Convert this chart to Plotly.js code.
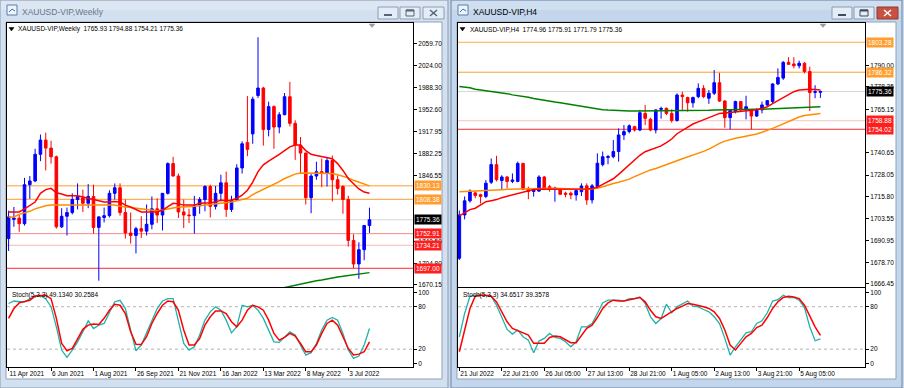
<!DOCTYPE html>
<html><head><meta charset="utf-8">
<script src="https://cdn.plot.ly/plotly-3.0.1.min.js"></script>
<style>html,body{margin:0;padding:0;background:#c8d8ea;}#chart{width:904px;height:388px;}</style>
</head><body><div id="chart"></div>
<script>
// ================= WEEKLY DATA =================
const weekDates = ['2021-04-11','2021-04-18','2021-04-25','2021-05-02','2021-05-09','2021-05-16','2021-05-23','2021-05-30','2021-06-06','2021-06-13','2021-06-20','2021-06-27','2021-07-04','2021-07-11','2021-07-18','2021-07-25','2021-08-01','2021-08-08','2021-08-15','2021-08-22','2021-08-29','2021-09-05','2021-09-12','2021-09-19','2021-09-26','2021-10-03','2021-10-10','2021-10-17','2021-10-24','2021-10-31','2021-11-07','2021-11-14','2021-11-21','2021-11-28','2021-12-05','2021-12-12','2021-12-19','2021-12-26','2022-01-02','2022-01-09','2022-01-16','2022-01-23','2022-01-30','2022-02-06','2022-02-13','2022-02-20','2022-02-27','2022-03-06','2022-03-13','2022-03-20','2022-03-27','2022-04-03','2022-04-10','2022-04-17','2022-04-24','2022-05-01','2022-05-08','2022-05-15','2022-05-22','2022-05-29','2022-06-05','2022-06-12','2022-06-19','2022-06-26','2022-07-03','2022-07-10','2022-07-17','2022-07-24','2022-07-31'];
const wOpen = [1745,1776,1778,1769,1832,1838,1881,1904,1891,1877,1764,1781,1787,1808,1811,1802,1813,1763,1779,1782,1818,1827,1787,1754,1750,1761,1757,1768,1793,1783,1818,1866,1846,1788,1783,1782,1798,1808,1829,1797,1818,1835,1792,1807,1859,1900,1914,1976,1988,1921,1958,1925,1945,1974,1931,1896,1883,1811,1846,1853,1851,1871,1840,1829,1808,1742,1704,1727,1765.93];
const wHigh = [1790,1796,1783,1843,1846,1890,1913,1916,1903,1879,1794,1795,1818,1834,1824,1833,1832,1781,1795,1823,1834,1834,1808,1787,1764,1781,1800,1813,1810,1818,1868,1877,1850,1808,1793,1814,1812,1831,1832,1830,1848,1853,1814,1865,1902,1975,1974,2070,1990,1966,1960,1949,1980,1998,1936,1909,1884,1849,1869,1874,1875,1879,1847,1831,1814,1752,1739,1767,1794.88];
const wLow = [1725,1764,1756,1766,1809,1836,1870,1855,1866,1761,1762,1750,1784,1792,1788,1794,1753,1677,1771,1779,1808,1782,1745,1737,1721,1746,1750,1760,1770,1758,1816,1845,1778,1762,1770,1753,1785,1789,1779,1792,1805,1780,1788,1807,1850,1878,1898,1972,1895,1910,1890,1915,1944,1926,1872,1850,1800,1786,1840,1828,1829,1805,1816,1785,1732,1697,1680,1710,1754.21];
const wClose = [1780,1778,1769,1832,1838,1881,1904,1891,1877,1764,1781,1787,1808,1813,1802,1813,1763,1780,1782,1818,1827,1787,1754,1750,1761,1757,1768,1793,1783,1818,1866,1846,1788,1783,1782,1798,1808,1829,1797,1818,1835,1792,1807,1859,1898,1889,1970,1988,1921,1958,1925,1945,1974,1931,1896,1883,1811,1846,1853,1851,1871,1840,1826,1808,1742,1704,1727,1766,1775.36];
const wMaRed = [1788,1788,1788,1793,1798,1804,1818,1824,1826,1819,1817,1814,1814,1814,1812,1810,1807,1805,1804,1804,1805,1804,1799,1796,1792,1788,1788,1788,1788,1791,1796,1802,1801,1799,1799,1799,1802,1802,1803,1804,1807,1806,1807,1810,1815,1823,1836,1853,1864,1870,1875,1881,1887,1893,1896,1896,1887,1881,1879,1877,1875,1874,1866,1855,1842,1833,1825,1820,1818];
const wMaOrange = [1780,1780,1784,1786,1789,1793,1796,1798,1799,1799,1799,1799,1799,1800,1800,1800,1800,1800,1799,1799,1799,1797,1796,1795,1794,1792,1791,1790,1790,1791,1793,1795,1796,1796,1796,1797,1798,1799,1799,1800,1802,1803,1804,1806,1808,1810,1816,1820,1825,1829,1833,1837,1842,1846,1849,1851,1851,1851,1851,1851,1851,1850,1848,1846,1843,1839,1836,1833,1830];
const wGreenStart = 51;
const wMaGreen = [1664,1666,1668,1670,1672,1673,1675,1677,1678,1680,1681,1683,1684,1685,1687,1688,1689,1690];
const wStochK = [84.5,88,87,87,91,95,96,91,80,51.6,18.7,8.4,18.7,30.4,44.5,60,49.2,54,56.3,72.7,87,89,77.4,47,17.8,25.8,42.2,61,77.4,88,91.4,91.4,61,28,18.7,23.4,40,61,72.7,79.7,75,61,43,51.6,82,79.7,82,75,63.5,47,30.4,29.5,37.5,44.5,40,25.8,11.7,15,28,47,61,64.8,61,42.2,18.7,7,10.3,25.8,49.134];
const wStochD = [63.5,77.4,85.4,87,89,95,96,96,91.4,63.5,28,17.8,21,35,48,54,55.6,55,63.5,75,83.5,82,70.4,44.5,27,26.5,37.5,56.3,70.4,82,88,87,75,47,25.8,25.8,35,54,65.8,74,74,70.4,58.7,51.6,61,75,82,79.7,75,61,42.2,32.8,36.6,42.2,38.5,28,16.3,16.3,25.8,42.2,56.3,61,54,37.5,21,11.7,13,16.3,30.2584];
const wTickVals = ['2021-04-11','2021-06-06','2021-08-01','2021-09-26','2021-11-21','2022-01-16','2022-03-13','2022-05-08','2022-07-03'];
const wTickText = ['11 Apr 2021','6 Jun 2021','1 Aug 2021','26 Sep 2021','21 Nov 2021','16 Jan 2022','13 Mar 2022','8 May 2022','3 Jul 2022'];
const wPriceTicks = [2059.70,2024.00,1988.30,1952.60,1917.95,1882.25,1846.55,1740.50,1704.80,1670.15];
const wLevels = [1830.13,1808.38,1752.91,1734.21,1697.00];
const wLevelLine = ['#ff9d2e','#ff9d2e','#f58a8a','#f8b8b8','#ff2a2a'];
const wLevelTag = ['#ff9d2e','#ff9d2e','#ff1e1e','#ff1e1e','#ff1e1e'];

// ================= H4 DATA =================
const h4Times = ['21 Jul 13:00','21 Jul 17:00','21 Jul 21:00','22 Jul 01:00','22 Jul 05:00','22 Jul 09:00','22 Jul 13:00','22 Jul 17:00','22 Jul 21:00','25 Jul 01:00','25 Jul 05:00','25 Jul 09:00','25 Jul 13:00','25 Jul 17:00','25 Jul 21:00','26 Jul 01:00','26 Jul 05:00','26 Jul 09:00','26 Jul 13:00','26 Jul 17:00','26 Jul 21:00','27 Jul 01:00','27 Jul 05:00','27 Jul 09:00','27 Jul 13:00','27 Jul 17:00','27 Jul 21:00','28 Jul 01:00','28 Jul 05:00','28 Jul 09:00','28 Jul 13:00','28 Jul 17:00','28 Jul 21:00','29 Jul 01:00','29 Jul 05:00','29 Jul 09:00','29 Jul 13:00','29 Jul 17:00','29 Jul 21:00','1 Aug 01:00','1 Aug 05:00','1 Aug 09:00','1 Aug 13:00','1 Aug 17:00','1 Aug 21:00','2 Aug 01:00','2 Aug 05:00','2 Aug 09:00','2 Aug 13:00','2 Aug 17:00','2 Aug 21:00','3 Aug 01:00','3 Aug 05:00','3 Aug 09:00','3 Aug 13:00','3 Aug 17:00','3 Aug 21:00','4 Aug 01:00','4 Aug 05:00','4 Aug 09:00','4 Aug 13:00','4 Aug 17:00','4 Aug 21:00','5 Aug 01:00','5 Aug 05:00','5 Aug 09:00','5 Aug 13:00','5 Aug 17:00','5 Aug 21:00'];
const hOpen = [1681,1705.5,1713.5,1718,1717,1716,1724,1734,1725,1727,1724.5,1724.5,1734.7,1720,1718.8,1719,1727,1721.5,1720,1719.6,1717.8,1717.8,1716.8,1718.7,1722,1714,1721.5,1734,1738,1738.5,1741.4,1750.8,1752.7,1755.5,1753.6,1763,1759.7,1753.6,1765.3,1765.9,1763,1759,1773.4,1772,1769,1772.5,1777.2,1771.6,1774.4,1780.4,1770,1760.6,1764,1769.7,1764.9,1765,1761.5,1765,1767.8,1769.7,1779.7,1783,1791.9,1791,1790,1791.4,1786.7,1774.9,1774.96];
const hHigh = [1708,1716,1720,1719,1717.5,1725.3,1737.5,1739,1728,1727.6,1729,1735.7,1735,1721.5,1720.6,1728,1727.5,1722.5,1721.5,1720.6,1718.7,1718.7,1719.7,1723.4,1723.4,1723,1740.4,1741.4,1739.5,1748,1754.5,1756.4,1756.8,1756,1765,1767.8,1760.5,1765.3,1766.8,1766.3,1765.3,1774.4,1775.3,1772.5,1772.5,1780,1779,1776.3,1787.6,1786,1770.6,1765.3,1770.2,1770,1773,1765.3,1765.9,1769.7,1770.6,1780,1788.5,1792.7,1794.8,1794.8,1792.9,1792,1789.5,1779,1775.91];
const hLow = [1680,1703,1712.5,1715,1712,1715,1723,1724.5,1720,1720.6,1723.5,1724,1719.6,1714.4,1715.9,1718.5,1719.6,1718.7,1713,1716.8,1715.5,1714.4,1713.6,1716.2,1711.2,1712,1720.6,1733,1734.2,1737.6,1735.7,1748,1751.7,1752.7,1753,1756.4,1752.9,1751.7,1760,1762,1757.8,1758.3,1765,1764,1766.3,1771.6,1771.6,1768.4,1773.4,1769.5,1754.9,1754,1763,1764,1759.6,1754,1761,1763,1766.8,1768.7,1779,1782,1790.4,1788.5,1788.5,1785.7,1764.4,1771.6,1771.79];
const hClose = [1705.5,1713.5,1719,1716.5,1716,1723.5,1734,1725.5,1727,1724.5,1725.3,1734.7,1720,1718.8,1720,1727,1720.6,1720,1720.7,1717.2,1717.2,1716.8,1719.3,1721.9,1714,1722,1734.8,1738.5,1738.5,1741.4,1750.8,1752.7,1756,1753.6,1763.4,1760.2,1753.6,1765,1765.8,1763,1759,1773.4,1772.5,1769,1772,1777.2,1772.5,1774.4,1780.4,1770,1760.6,1764.6,1769.7,1765,1766.8,1761.5,1765,1767.8,1770.2,1779.7,1783.3,1791.9,1790.8,1790,1791.4,1786.7,1774.8,1775.3,1775.36];
const hMaRed = [1705,1707,1708.5,1709.3,1711,1713,1713.6,1714.2,1715.3,1716.1,1716.9,1717.6,1718.7,1719.4,1719.9,1720,1720,1720,1720,1720,1720,1720,1720,1720,1720.2,1720.5,1721.2,1722.8,1724.2,1726,1728.5,1731.2,1734.3,1737,1739.3,1741.3,1742.5,1743.5,1744.6,1746.5,1748.5,1751.5,1753.5,1755.3,1757,1758.2,1759.5,1760.7,1762,1763,1763.3,1763.6,1763.9,1764.1,1764.5,1764.8,1765.1,1765.8,1766.8,1768.5,1770.2,1772.2,1774,1775.3,1776.2,1776.5,1776.7,1776.5,1776.3];
const hMaOrange = [1718.7,1718.8,1718.9,1719.1,1719.2,1719.4,1719.5,1719.7,1719.8,1720,1720.1,1720.2,1720.3,1720.5,1720.6,1720.6,1720.6,1720.6,1720.6,1720.5,1720.3,1720.1,1720,1720,1720,1720.2,1720.6,1721.5,1722.6,1723.3,1724,1724.8,1725.8,1727.2,1728.5,1730,1731,1731.8,1732.8,1734,1735.2,1736.2,1737.3,1738.3,1739.3,1740.3,1741.5,1742.8,1744.5,1746,1747.3,1748.2,1748.9,1749.5,1750,1750.5,1751.3,1752.3,1753.3,1754.5,1755.8,1757.2,1758.5,1759.8,1761,1761.8,1762.3,1762.7,1763];
const hMaGreen = [1778.2,1777.9,1777.5,1776.7,1776.3,1776,1775.5,1774.9,1774.6,1774.2,1773.5,1773.1,1772.8,1772.2,1771.4,1770.8,1770.3,1769.9,1769.4,1769,1768.5,1767.9,1767.4,1766.9,1766.4,1765.8,1765.4,1765.1,1764.9,1764.7,1764.6,1764.5,1764.4,1764.4,1764.4,1764.4,1764.4,1764.4,1764.4,1764.4,1764.4,1764.5,1764.5,1764.5,1764.6,1764.6,1764.7,1764.8,1764.9,1764.9,1765,1765,1765,1765.1,1765.1,1765.2,1765.3,1765.4,1765.5,1765.6,1765.8,1765.9,1766,1766.2,1766.4,1766.5,1766.6,1766.7,1766.8];
const hStochK = [37.5,70.4,94.8,96.2,96.2,96,94.8,82,65.7,47.9,41.3,47,37.5,32.8,15,31.4,35.2,42.2,36.6,35.2,30.4,23.4,30.4,51.6,51.6,56.3,70.4,85.4,89.2,89.2,89.2,88,91.4,91.4,93.8,84.4,65.7,56.3,63.3,83.5,71.4,79.8,84.4,88,80.7,79.8,76,72.7,65.7,56.3,35.2,11.7,23.4,33.8,43.2,44.6,56.3,60,71.4,88,89.9,96.2,93,93,89.2,78.8,51.6,31.9,34.6517];
const hStochD = [16.4,47,77.5,94.8,96.2,96.2,94.8,86.8,72.7,58.6,49.3,46,42.2,39.9,28.2,28.2,28.2,36.6,38.5,37.5,32.8,29.1,29.1,39.9,49.3,54,64.7,77.5,85.4,89.2,88,88,90,91.4,93,86.8,75,65.7,63.3,68,72.7,77.5,80.7,84.4,83.5,82,79.8,77.5,72.7,63.3,47,25.8,18.8,28.2,37.5,42.2,50.6,54,64.7,77.5,86.8,93,94.8,93.8,91.4,82,65.7,51.6,39.3578];
const hTickVals = ['21 Jul 13:00','22 Jul 21:00','26 Jul 05:00','27 Jul 13:00','28 Jul 21:00','1 Aug 05:00','2 Aug 13:00','3 Aug 21:00','5 Aug 05:00'];
const hTickText = ['21 Jul 2022','22 Jul 21:00','26 Jul 05:00','27 Jul 13:00','28 Jul 21:00','1 Aug 05:00','2 Aug 13:00','3 Aug 21:00','5 Aug 05:00'];
const hPriceTicks = [1790.00,1778.35,1765.15,1740.65,1728.05,1715.80,1703.55,1690.95,1678.70,1666.45];
const hLevels = [1803.28,1786.32,1758.88,1754.02];
const hLevelLine = ['#ffae4a','#ff9d2e','#f8c4c4','#ff2a2a'];
const hLevelTag = ['#ff9d2e','#ff9d2e','#ff1e1e','#ff1e1e'];
const lastPrice = 1775.36;
const stochLevels = [20, 80];

// ================= LAYOUT HELPERS =================
const W = 904, H = 388;
const PX = x => x / W, PY = y => 1 - y / H;
const FONT = 'Liberation Sans, Arial, sans-serif';
const shapes = [], annotations = [];
function rect(x0, y0, x1, y1, fill, line, lw, layer) {
  shapes.push({type:'rect', xref:'paper', yref:'paper', x0:PX(x0), x1:PX(x1), y0:PY(y1), y1:PY(y0),
    fillcolor: fill, line:{color: line || 'rgba(0,0,0,0)', width: line ? (lw || 1) : 0}, layer: layer || 'below'});
}
function seg(x0, y0, x1, y1, color, lw, layer) {
  shapes.push({type:'line', xref:'paper', yref:'paper', x0:PX(x0), x1:PX(x1), y0:PY(y0), y1:PY(y1),
    line:{color:color, width: lw || 1}, layer: layer || 'below'});
}
function tri(x0, y0, x1, y1, color) {
  const xm = (x0 + x1) / 2;
  shapes.push({type:'path', xref:'paper', yref:'paper', layer:'above', fillcolor:color, line:{color:color, width:0.5},
    path:`M ${PX(x0)} ${PY(y0)} L ${PX(x1)} ${PY(y0)} L ${PX(xm)} ${PY(y1)} Z`});
}
function text(x, y, t, size, color, anchor) {
  annotations.push({xref:'paper', yref:'paper', x:PX(x), y:PY(y), text:t, showarrow:false,
    xanchor: anchor || 'left', yanchor:'middle', font:{family:FONT, size:size, color:color}});
}

// ---- window chrome ----
function windowFrame(x0, x1, active, title) {
  rect(x0, 0, x1, 388, active ? '#c3d6ec' : '#d3e0ef', active ? '#6f86a3' : '#8a9bb2');
  rect(x0 + 1, 1, x1 - 1, 10, active ? '#cfdff0' : '#dde7f3');
  rect(x0 + 6, 22, x1 - 6, 379, '#ffffff', '#8fa2ba');
  rect(x0 + 7, 5, x0 + 17, 15, '#eef4fb', '#5b7ca8');
  seg(x0 + 9, 12, x0 + 12, 9, '#3a6fb8', 1);
  seg(x0 + 12, 9, x0 + 15, 11, '#3a6fb8', 1);
  text(x0 + 20, 12, title, 8.5, active ? '#000000' : '#6b7889');
  const bx = [x1 - 70, x1 - 48, x1 - 25];
  rect(bx[0], 7, bx[0] + 20, 19, '#e4ecf6', '#8d9db4');
  rect(bx[1], 7, bx[1] + 20, 19, '#e4ecf6', '#8d9db4');
  rect(bx[2], 7, bx[2] + 21, 19, active ? '#c9513f' : '#e4ecf6', active ? '#8b3a30' : '#8d9db4');
  const ic = active ? '#3f4d60' : '#566578';
  rect(bx[0] + 6, 14, bx[0] + 14, 16, ic);
  rect(bx[1] + 6, 10, bx[1] + 14, 16, 'rgba(0,0,0,0)', ic, 1);
  seg(bx[1] + 6, 10.5, bx[1] + 14, 10.5, ic, 2);
  const xc = active ? '#ffffff' : ic;
  seg(bx[2] + 7, 10, bx[2] + 14, 16, xc, 1.5);
  seg(bx[2] + 7, 16, bx[2] + 14, 10, xc, 1.5);
}
windowFrame(0, 448, false, 'XAUUSD-VIP,Weekly');
windowFrame(451, 902, true, 'XAUUSD-VIP,H4');

const panels = {
  L: {x0:7, x1:413, mainTop:23, mainBot:287, stTop:288, stBot:367},
  R: {x0:458, x1:865, mainTop:23, mainBot:287, stTop:288, stBot:367}
};
function dom(a, b) { return [a / W, b / W]; }
function ydom(top, bot) { return [1 - bot / H, 1 - top / H]; }

const axBase = {showgrid:false, zeroline:false, showline:true, mirror:true, linecolor:'#000', linewidth:1, fixedrange:true,
  tickfont:{family:FONT, size:6.5, color:'#000'}};
const catW = {type:'category', categoryorder:'array', categoryarray:weekDates, tickangle:0};
const catH = {type:'category', categoryorder:'array', categoryarray:h4Times, tickangle:0};

const layout = {
  width:W, height:H, margin:{l:0, r:0, t:0, b:0}, paper_bgcolor:'#c8d8ea', plot_bgcolor:'#ffffff',
  showlegend:false, hovermode:false, font:{family:FONT, size:6.5, color:'#000'},
  xaxis: Object.assign({}, axBase, catW, {domain:dom(panels.L.x0, panels.L.x1), anchor:'y', range:[-0.3, 76.2],
    rangeslider:{visible:false}, showticklabels:false, ticks:''}),
  yaxis: Object.assign({}, axBase, {domain:ydom(panels.L.mainTop, panels.L.mainBot), anchor:'x', side:'right', range:[1666.8, 2093.0],
    tickvals:wPriceTicks, ticktext:wPriceTicks.map(v => v.toFixed(2)), ticks:'outside', ticklen:3, tickcolor:'#000'}),
  xaxis2: Object.assign({}, axBase, catW, {domain:dom(panels.L.x0, panels.L.x1), anchor:'y2', matches:'x',
    tickvals:wTickVals, ticktext:wTickText, ticks:'outside', ticklen:3, tickcolor:'#000', ticklabelposition:'outside right'}),
  yaxis2: Object.assign({}, axBase, {domain:ydom(panels.L.stTop, panels.L.stBot), anchor:'x2', side:'right', range:[-5.2, 106.4],
    tickvals:[0, 20, 80, 100], ticktext:['0', '20', '80', '100'], ticks:'outside', ticklen:3, tickcolor:'#000'}),
  xaxis3: Object.assign({}, axBase, catH, {domain:dom(panels.R.x0, panels.R.x1), anchor:'y3', range:[-0.25, 76.4],
    rangeslider:{visible:false}, showticklabels:false, ticks:''}),
  yaxis3: Object.assign({}, axBase, {domain:ydom(panels.R.mainTop, panels.R.mainBot), anchor:'x3', side:'right', range:[1664.7, 1814.2],
    tickvals:hPriceTicks, ticktext:hPriceTicks.map(v => v.toFixed(2)), ticks:'outside', ticklen:3, tickcolor:'#000'}),
  xaxis4: Object.assign({}, axBase, catH, {domain:dom(panels.R.x0, panels.R.x1), anchor:'y4', matches:'x3',
    tickvals:hTickVals, ticktext:hTickText, ticks:'outside', ticklen:3, tickcolor:'#000', ticklabelposition:'outside right'}),
  yaxis4: Object.assign({}, axBase, {domain:ydom(panels.R.stTop, panels.R.stBot), anchor:'x4', side:'right', range:[-5.2, 106.4],
    tickvals:[0, 20, 80, 100], ticktext:['0', '20', '80', '100'], ticks:'outside', ticklen:3, tickcolor:'#000'}),
  shapes: shapes, annotations: annotations
};

function levels(xa, ya, vals, lineCols, tagCols, tagX) {
  vals.forEach((v, k) => {
    shapes.push({type:'line', xref:xa + ' domain', yref:ya, x0:0, x1:1, y0:v, y1:v, line:{color:lineCols[k], width:1}, layer:'below'});
    annotations.push({xref:'paper', yref:ya, x:PX(tagX), y:v, text:v.toFixed(2), showarrow:false, xanchor:'left', yanchor:'middle',
      bgcolor:tagCols[k], borderpad:1, font:{family:FONT, size:6.5, color:'#ffffff'}});
  });
  shapes.push({type:'line', xref:xa + ' domain', yref:ya, x0:0, x1:1, y0:lastPrice, y1:lastPrice, line:{color:'#d4d4d4', width:1}, layer:'below'});
  annotations.push({xref:'paper', yref:ya, x:PX(tagX), y:lastPrice, text:lastPrice.toFixed(2), showarrow:false, xanchor:'left', yanchor:'middle',
    bgcolor:'#000000', borderpad:1, font:{family:FONT, size:6.5, color:'#ffffff'}});
}
levels('x', 'y', wLevels, wLevelLine, wLevelTag, 414);
levels('x3', 'y3', hLevels, hLevelLine, hLevelTag, 866);
['x2', 'x4'].forEach((xa, k) => {
  const ya = k === 0 ? 'y2' : 'y4';
  stochLevels.forEach(v => shapes.push({type:'line', xref:xa + ' domain', yref:ya, x0:0, x1:1, y0:v, y1:v,
    line:{color:'#b4b4b4', width:1, dash:'dot'}, layer:'below'}));
});

const f2 = v => v.toFixed(2);
const nb = '\u00a0';
tri(9, 27.5, 14, 31, '#000');
text(16, 29.5, 'XAUUSD-VIP,Weekly' + nb + nb + [wOpen, wHigh, wLow, wClose].map(a => f2(a[a.length - 1])).join(' '), 6.5, '#000');
tri(460, 27.5, 465, 31, '#000');
text(468, 29.5, 'XAUUSD-VIP,H4' + nb + nb + [hOpen, hHigh, hLow, hClose].map(a => f2(a[a.length - 1])).join(' '), 6.5, '#000');
text(10, 294.5, 'Stoch(5,3,3) ' + wStochK[wStochK.length - 1].toFixed(4) + ' ' + wStochD[wStochD.length - 1].toFixed(4), 6.5, '#000');
text(461, 294.5, 'Stoch(5,3,3) ' + hStochK[hStochK.length - 1].toFixed(4) + ' ' + hStochD[hStochD.length - 1].toFixed(4), 6.5, '#000');
tri(369, 24, 375, 27.5, '#9a9a9a');
tri(820, 24, 826, 27.5, '#9a9a9a');

function candles(x, o, h, l, c, xa, ya) {
  return {type:'candlestick', x:x, open:o, high:h, low:l, close:c, xaxis:xa, yaxis:ya, whiskerwidth:0,
    increasing:{line:{color:'#0000ff', width:1}, fillcolor:'#0000ff'},
    decreasing:{line:{color:'#ff0000', width:1}, fillcolor:'#ff0000'}, hoverinfo:'skip'};
}
function line(x, y, xa, ya, color, w) {
  return {type:'scatter', mode:'lines', x:x, y:y, xaxis:xa, yaxis:ya, line:{color:color, width:w}, hoverinfo:'skip'};
}
const traces = [
  line(weekDates, wMaOrange, 'x', 'y', '#ff8c00', 1.5),
  line(weekDates.slice(wGreenStart), wMaGreen, 'x', 'y', '#008000', 1.5),
  line(weekDates, wMaRed, 'x', 'y', '#ff0000', 1.5),
  candles(weekDates, wOpen, wHigh, wLow, wClose, 'x', 'y'),
  line(weekDates, wStochK, 'x2', 'y2', '#20b2aa', 1.3),
  line(weekDates, wStochD, 'x2', 'y2', '#ff0000', 1.5),
  line(h4Times, hMaGreen, 'x3', 'y3', '#008000', 1.5),
  line(h4Times, hMaOrange, 'x3', 'y3', '#ff8c00', 1.5),
  line(h4Times, hMaRed, 'x3', 'y3', '#ff0000', 1.5),
  candles(h4Times, hOpen, hHigh, hLow, hClose, 'x3', 'y3'),
  line(h4Times, hStochK, 'x4', 'y4', '#20b2aa', 1.3),
  line(h4Times, hStochD, 'x4', 'y4', '#ff0000', 1.5)
];

Plotly.newPlot('chart', traces, layout, {staticPlot:true, displayModeBar:false});
</script>
</body></html>
